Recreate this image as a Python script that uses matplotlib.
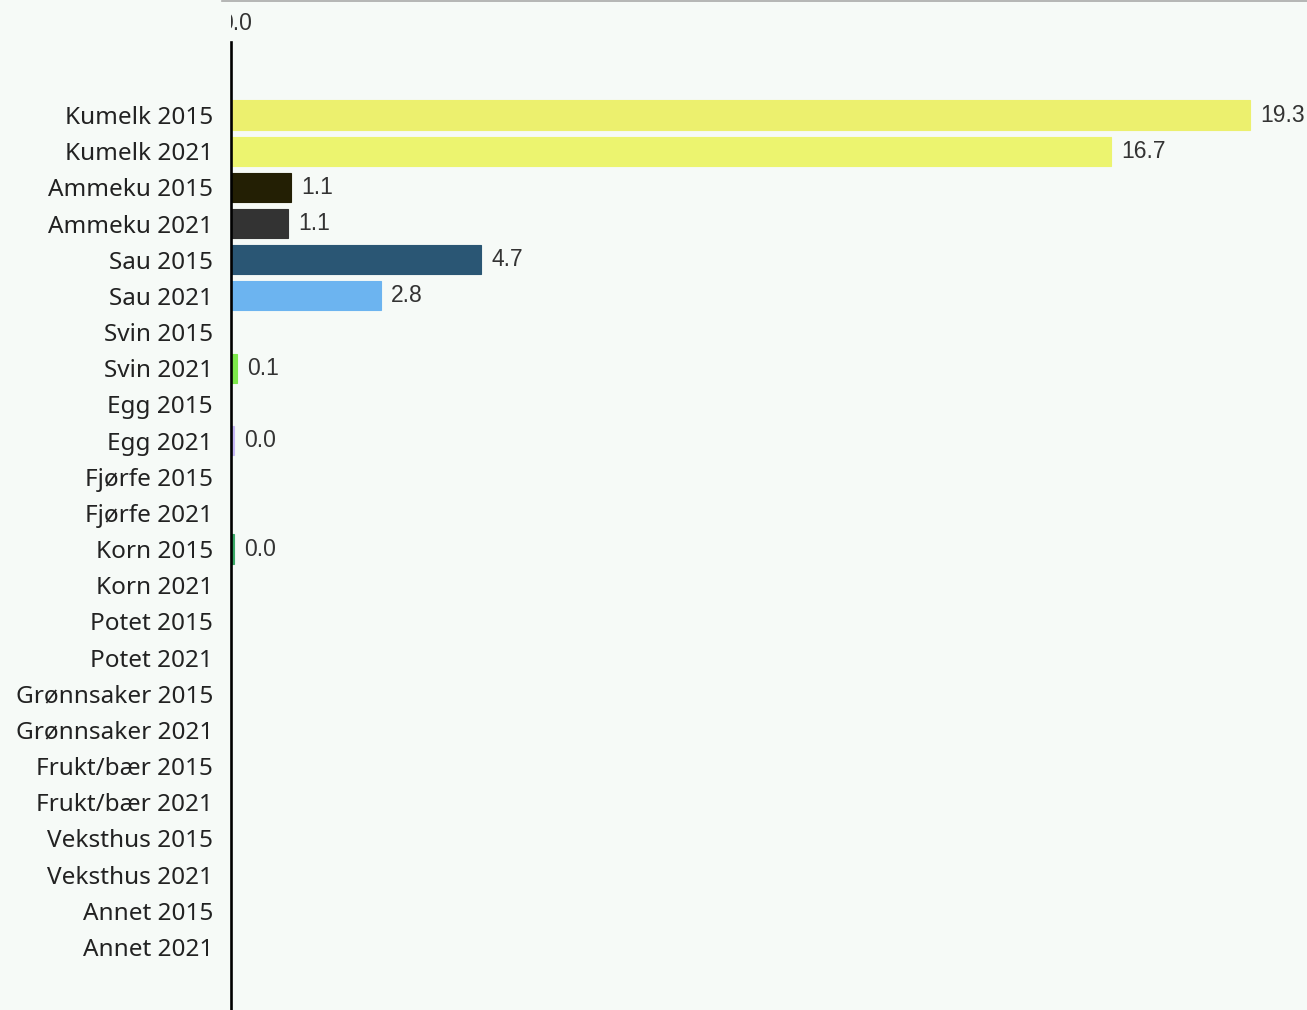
import numpy as np
import matplotlib
matplotlib.use("Agg")
import matplotlib.pyplot as plt
from matplotlib.lines import Line2D

categories = ["Kumelk 2015", "Kumelk 2021", "Ammeku 2015", "Ammeku 2021",
              "Sau 2015", "Sau 2021", "Svin 2015", "Svin 2021",
              "Egg 2015", "Egg 2021", "Fjørfe 2015", "Fjørfe 2021",
              "Korn 2015", "Korn 2021", "Potet 2015", "Potet 2021",
              "Grønnsaker 2015", "Grønnsaker 2021", "Frukt/bær 2015", "Frukt/bær 2021",
              "Veksthus 2015", "Veksthus 2021", "Annet 2015", "Annet 2021"]
values = [19.3, 16.66, 1.14, 1.08, 4.74, 2.84, None, 0.11,
          None, 0.049, None, None, 0.049, None, None, None,
          None, None, None, None, None, None, None, None]
colors = ["#ecf06e", "#ecf46f", "#231f04", "#333333", "#2a5674", "#6cb4f0", "#cccccc", "#7de84a",
          "#cccccc", "#c6b8f5", "#cccccc", "#cccccc", "#3aa866", "#cccccc", "#cccccc", "#cccccc",
          "#cccccc", "#cccccc", "#cccccc", "#cccccc", "#cccccc", "#cccccc", "#cccccc", "#cccccc"]

bg = "#f6faf7"
W, H = 1307, 1010
fig = plt.figure(figsize=(W / 100, H / 100), dpi=100, facecolor=bg)
ax = fig.add_axes([231 / W, 0, 1 - 231 / W, 1])
ax.set_facecolor(bg)

px_per_unit = 52.8
row_step = 36.17
ax.set_xlim(0, (W - 231) / px_per_unit)
ax.set_ylim((H - 115) / row_step, -115 / row_step)

y = np.arange(len(categories))
for i, (v, c) in enumerate(zip(values, colors)):
    if v is None:
        continue
    ax.barh(i, v, height=0.81, color=c, edgecolor=c, linewidth=0.8, zorder=2)
    ax.annotate(f"{v:.1f}", (v, i), xytext=(7.5, 0), textcoords="offset points",
                va="center", ha="left", fontsize=16.5, color="#333333",
                family="Liberation Sans")

ax.set_yticks(y)
ax.set_yticklabels(categories, fontsize=17.5, color="#222222", family="Noto Sans")
ax.tick_params(axis="y", length=0, pad=13)
ax.set_xticks([])

for s in ["top", "right", "bottom"]:
    ax.spines[s].set_visible(False)
ax.spines["left"].set_color("black")
ax.spines["left"].set_linewidth(1.9)
ax.spines["left"].set_zorder(3)
ax.spines["left"].set_bounds((H - 115) / row_step, (42 - 115) / row_step)

# partly clipped top tick label
ax.text(-0.2, (23 - 115) / row_step, "0.0", ha="left", va="center",
        fontsize=16.5, color="#333333", family="Liberation Sans", clip_on=True)

fig.add_artist(Line2D([222 / W, 1], [1 - 0.8 / H, 1 - 0.8 / H],
                      transform=fig.transFigure, color="#aaaaaa", linewidth=1.2))

fig.savefig("out.png", dpi=100, facecolor=bg)
